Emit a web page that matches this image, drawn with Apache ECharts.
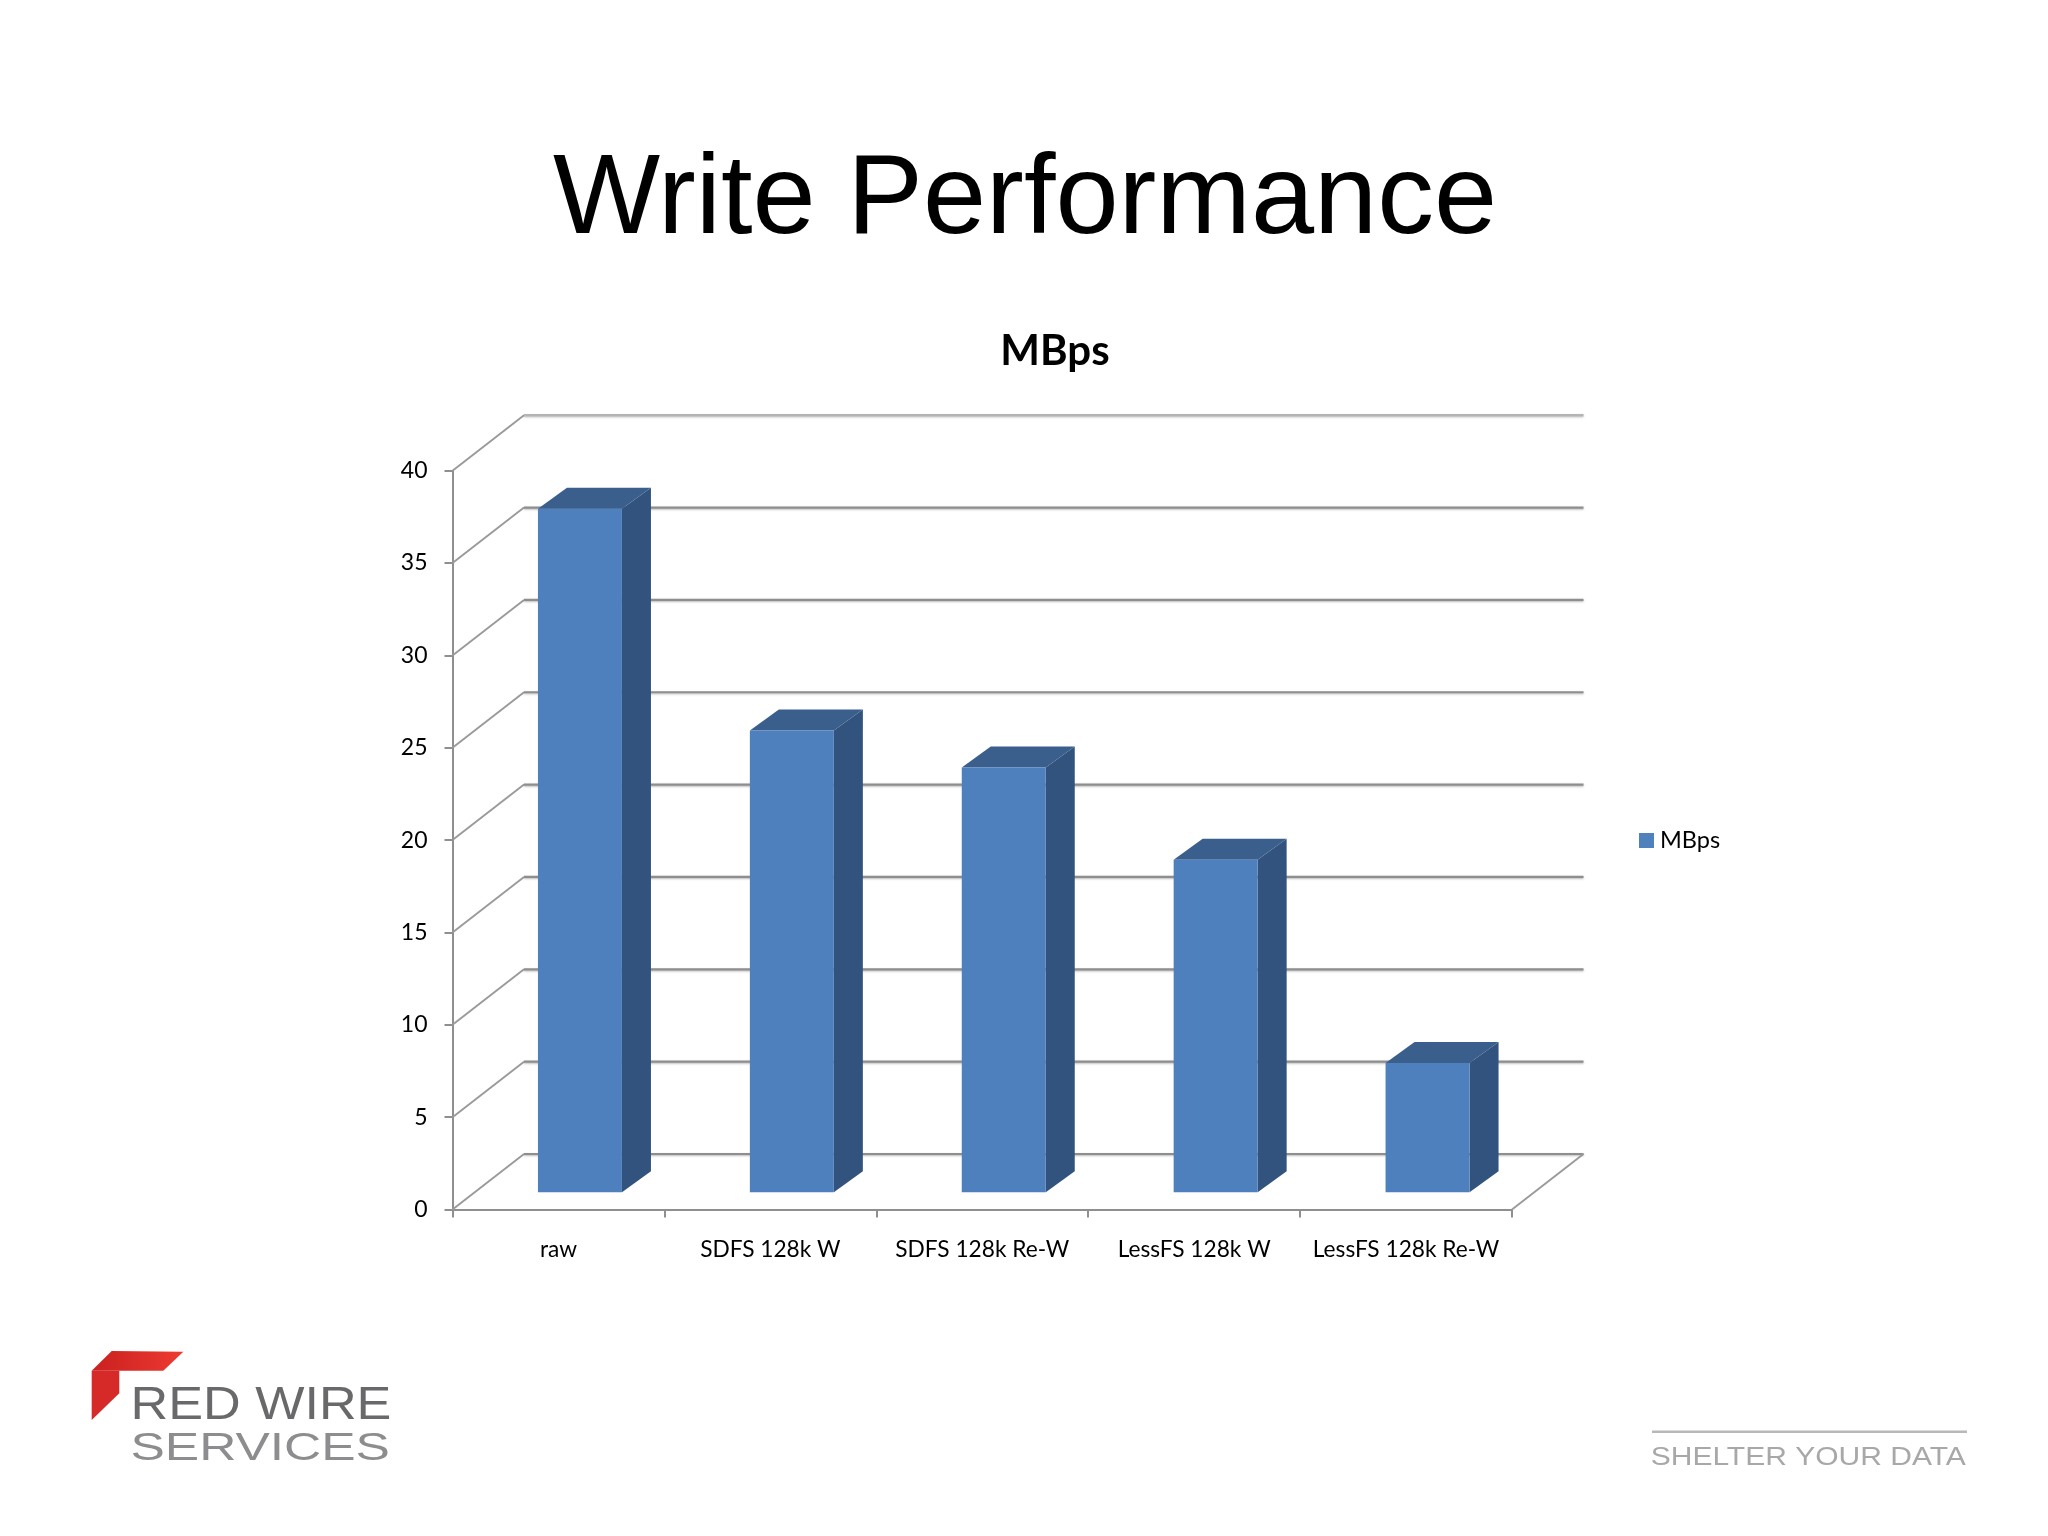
<!DOCTYPE html>
<html>
<head>
<meta charset="utf-8">
<style>html,body{margin:0;padding:0;background:#fff}#c{width:2048px;height:1536px}</style>
<script src="https://cdn.jsdelivr.net/npm/echarts@6/dist/echarts.min.js"></script>
</head>
<body>
<div id="c"></div>
<script>
const categories = ['raw', 'SDFS 128k W', 'SDFS 128k Re-W', 'LessFS 128k W', 'LessFS 128k Re-W'];
const mbps = [37, 25, 23, 18, 7];
const yTicks = [0, 5, 10, 15, 20, 25, 30, 35, 40];

const WALL_DX = 71.5, WALL_DY = 55.5;
const BAR_DX = 29, BAR_DY = 21, BAR_W = 84, BAR_SHIFT_X = 21.5, BAR_SHIFT_Y = 17.3;
const FRONT = '#4f80be', SIDE = '#31537d', TOP = '#3a5f8c';
const AXIS = '#8f8f8f';

function renderWall(params, api) {
  const v = api.value(1);
  const band = api.size([1, 0])[0];
  const a = api.coord([0, v]);
  const b = api.coord([categories.length - 1, v]);
  const left = a[0] - band / 2, right = b[0] + band / 2, y = a[1];
  const children = [
    { type: 'line', shape: { x1: left, y1: y, x2: left + WALL_DX, y2: y - WALL_DY },
      style: { stroke: '#9a9a9a', lineWidth: 1.9 } },
    { type: 'line', shape: { x1: left + WALL_DX, y1: y - WALL_DY, x2: right + WALL_DX, y2: y - WALL_DY },
      style: { stroke: v === 40 ? '#b4b4b4' : '#8e8e8e', lineWidth: 2.2,
               shadowColor: 'rgba(120,120,120,0.5)', shadowBlur: 2, shadowOffsetY: 1 } }
  ];
  if (v === 0) {
    children.push({ type: 'line', shape: { x1: right, y1: y, x2: right + WALL_DX, y2: y - WALL_DY },
      style: { stroke: '#9a9a9a', lineWidth: 1.9 } });
  }
  return { type: 'group', children };
}

function renderBar(params, api) {
  const i = api.value(0);
  const top = api.coord([i, api.value(1)]);
  const base = api.coord([i, 0]);
  const x0 = top[0] + BAR_SHIFT_X - BAR_W / 2, x1 = x0 + BAR_W;
  const yT = top[1] - BAR_SHIFT_Y, yB = base[1] - BAR_SHIFT_Y;
  return { type: 'group', children: [
    { type: 'polygon', shape: { points: [[x1, yT], [x1 + BAR_DX, yT - BAR_DY], [x1 + BAR_DX, yB - BAR_DY], [x1, yB]] },
      style: { fill: SIDE } },
    { type: 'polygon', shape: { points: [[x0, yT], [x0 + BAR_DX, yT - BAR_DY], [x1 + BAR_DX, yT - BAR_DY], [x1, yT]] },
      style: { fill: TOP } },
    { type: 'rect', shape: { x: x0, y: yT, width: BAR_W, height: yB - yT },
      style: { fill: FRONT } }
  ] };
}

const chart = echarts.init(document.getElementById('c'), null, { renderer: 'canvas' });
chart.setOption({
  animation: false,
  backgroundColor: '#ffffff',
  title: [
    { text: 'Write Performance', left: 1020, top: 140, textAlign: 'center',
      textStyle: { fontFamily: 'Liberation Sans', fontSize: 113.5, fontWeight: 'normal', color: '#000' } },
    { text: 'MBps', left: 1050, top: 325, textAlign: 'center',
      textStyle: { fontFamily: 'Lato', fontSize: 42, fontWeight: 'bold', color: '#000' } }
  ],
  legend: {
    data: ['MBps'], left: 1634, top: 823.5, icon: 'rect', itemWidth: 15, itemHeight: 15, itemGap: 0,
    textStyle: { fontFamily: 'Lato', fontSize: 23.5, color: '#000', padding: [0, 0, 0, 1] }
  },
  grid: { left: 452.5, width: 1059.5, top: 470.7, height: 738.8 },
  xAxis: {
    type: 'category', data: categories,
    axisLine: { lineStyle: { color: AXIS, width: 2 } },
    axisTick: { show: true, length: 8, alignWithLabel: false, lineStyle: { color: AXIS, width: 2 } },
    axisLabel: { margin: 29, interval: 0, fontFamily: 'Lato', fontSize: 22.7, color: '#000' },
    splitLine: { show: false }
  },
  yAxis: {
    type: 'value', min: 0, max: 40, interval: 5,
    axisLine: { show: true, lineStyle: { color: AXIS, width: 2 } },
    axisTick: { show: true, length: 8, lineStyle: { color: AXIS, width: 2 } },
    axisLabel: { margin: 25, fontFamily: 'Lato', fontSize: 23, color: '#000', padding: [2, 0, 0, 0] },
    splitLine: { show: false }
  },
  series: [
    { type: 'custom', name: 'wall', silent: true, z: 1, renderItem: renderWall,
      encode: { x: 0, y: 1 }, data: yTicks.map(v => [0, v]) },
    { type: 'custom', name: 'MBps', z: 2, renderItem: renderBar, itemStyle: { color: '#4f81bd' },
      encode: { x: 0, y: 1 }, data: mbps.map((v, i) => [i, v]) }
  ],
  graphic: [
    { type: 'polygon', shape: { points: [[111.7, 1351], [183.3, 1351.7], [163.3, 1370.7], [91.7, 1370.7]] },
      style: { fill: { type: 'linear', x: 0, y: 0, x2: 1, y2: 0, colorStops: [{ offset: 0, color: '#c9201f' }, { offset: 1, color: '#ee3a32' }] } } },
    { type: 'polygon', shape: { points: [[91.7, 1370.7], [119.3, 1370.7], [119.3, 1393.3], [91.7, 1420]] },
      style: { fill: '#d52a28' } },
    { type: 'text', x: 130.5, y: 1382.5, scaleX: 1.11,
      style: { text: 'RED WIRE', fontFamily: 'Liberation Sans', fontSize: 47, fill: '#69696b' } },
    { type: 'text', x: 130.5, y: 1429.5, scaleX: 1.32,
      style: { text: 'SERVICES', fontFamily: 'Liberation Sans', fontSize: 39, fill: '#8d8d8f' } },
    { type: 'rect', shape: { x: 1652, y: 1430.5, width: 315, height: 2.5 }, style: { fill: '#b8b8b8' } },
    { type: 'text', x: 1650.7, y: 1444.5, scaleX: 1.154,
      style: { text: 'SHELTER YOUR DATA', fontFamily: 'Liberation Sans', fontSize: 26, fill: '#a8a8a8' } }
  ]
});
</script>
</body>
</html>
